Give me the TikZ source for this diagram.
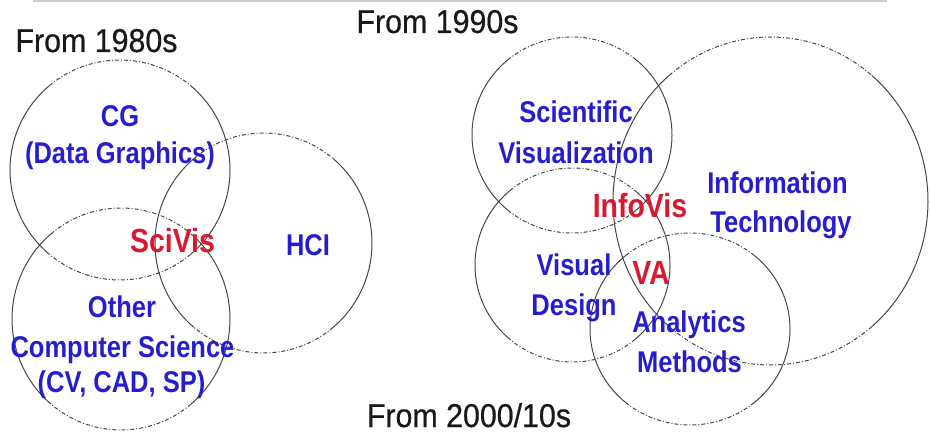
\documentclass[tikz,border=0pt]{standalone}
\usepackage{fontspec}
\setmainfont{Liberation Sans}
\newfontfamily\topicfont[FakeStretch=0.85]{Liberation Sans}
\newfontfamily\erafont[FakeStretch=0.92, FakeBold=0.6]{Liberation Sans}

\definecolor{topicblue}{RGB}{38,30,205}
\definecolor{fieldred}{RGB}{215,25,50}
\definecolor{ringgray}{RGB}{70,70,70}
\definecolor{eragray}{RGB}{25,25,25}
\definecolor{rulegray}{RGB}{205,205,205}

\tikzset{
  topic/.style={anchor=base, inner sep=0pt, text=topicblue,
    font=\topicfont\bfseries\fontsize{30}{36}\selectfont},
  field/.style={anchor=base, inner sep=0pt, text=fieldred,
    font=\topicfont\bfseries\fontsize{33.5}{40}\selectfont},
  era/.style={anchor=base, inner sep=0pt, text=eragray,
    font=\erafont\fontsize{33}{40}\selectfont},
  ringside/.style={draw=ringgray, line width=1pt},
  ringcap/.style={draw=ringgray, line width=1pt,
    dash pattern=on 4pt off 2pt on 1pt off 2pt},
}

% one Venn ring: centre (#1,#2), radii #3 and #4;
% solid on the sides, dash-dotted over the top and bottom
\newcommand\vennring[4]{%
  \draw[ringside] (#1,#2) ++(-50:#3 and #4)
    arc[start angle=-50, end angle=50, x radius=#3, y radius=#4];
  \draw[ringside] (#1,#2) ++(130:#3 and #4)
    arc[start angle=130, end angle=230, x radius=#3, y radius=#4];
  \draw[ringcap] (#1,#2) ++(50:#3 and #4)
    arc[start angle=50, end angle=130, x radius=#3, y radius=#4];
  \draw[ringcap] (#1,#2) ++(230:#3 and #4)
    arc[start angle=230, end angle=310, x radius=#3, y radius=#4];
}

\begin{document}
\begin{tikzpicture}[x=1pt, y=-1pt]
\useasboundingbox (0,0) rectangle (930,436);

% thin rule along the top edge
\draw[rulegray, line width=2pt] (33,1) -- (887,1);

% ---- 1980s group ----
\vennring{120}{170}{110}{110}
\vennring{121}{319}{109}{111}
\vennring{263.5}{243}{108.5}{110}

\node[era] (era80) at (96.5,52) {From 1980s};
\node[topic] (cg) at (120,127) {CG};
\node[topic] (cgsub) at (120,164) {(Data Graphics)};
\node[field] (scivis) at (172.5,252) {SciVis};
\node[topic] (hci) at (308,255) {HCI};
\node[topic] (other) at (122,317) {Other};
\node[topic] (compsci) at (122.5,357) {Computer Science};
\node[topic] (cvcad) at (121.5,392) {(CV, CAD, SP)};

% ---- 1990s and 2000/10s group ----
\vennring{572}{135}{100}{98}
\vennring{572.5}{265}{97.5}{97}
\vennring{770.5}{201}{157.5}{164}
\vennring{690}{329}{100}{96}

\node[era] (era90) at (437.5,33) {From 1990s};
\node[era] (era00) at (469,427) {From 2000/10s};
\node[topic] (sci) at (576,123) {Scientific};
\node[topic] (vis) at (576,163) {Visualization};
\node[topic] (info) at (777.5,193) {Information};
\node[topic] (tech) at (781,232) {Technology};
\node[field] (infovis) at (640,217) {InfoVis};
\node[topic] (visual) at (574,275) {Visual};
\node[topic] (design) at (574,315) {Design};
\node[field] (va) at (651,284) {VA};
\node[topic] (analytics) at (689,332) {Analytics};
\node[topic] (methods) at (689.5,372) {Methods};
\end{tikzpicture}
\end{document}
